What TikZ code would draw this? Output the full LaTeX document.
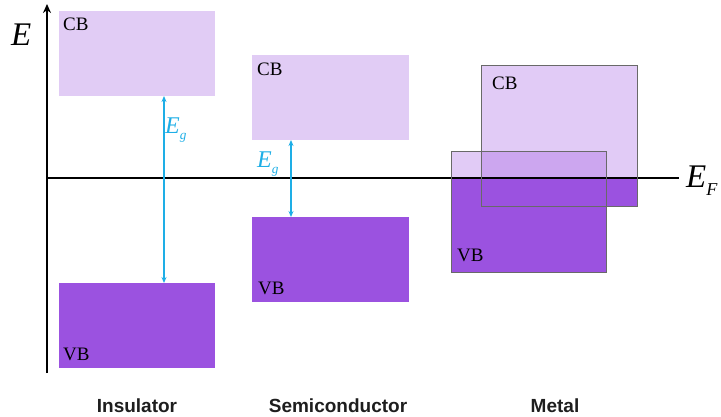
\documentclass[tikz,border=0pt]{standalone}
\usepackage{fontspec}
\setmainfont{Liberation Serif}
\newfontfamily\capfont{Liberation Sans}
\usetikzlibrary{arrows.meta}

\definecolor{vbfill}{RGB}{155,82,224}
\definecolor{cbfill}{RGB}{225,204,245}
\definecolor{gapblue}{RGB}{30,174,230}
\definecolor{edgegrey}{RGB}{105,105,105}
\definecolor{captext}{RGB}{30,30,30}

\newcommand{\subsc}[2]{\textit{#1}\raisebox{-0.25em}{\fontsize{0.55em}{0.6em}\selectfont\textit{#2}}}

\tikzset{
  band/.style={rectangle, inner sep=0pt, outer sep=0pt, anchor=north west},
  cbband/.style={band, fill=cbfill},
  vbband/.style={band, fill=vbfill},
  metalbox/.style={band},
  bandtxt/.style={inner sep=0pt, anchor=north west, font=\fontsize{19}{19}\selectfont},
  gap/.style={draw=gapblue, line width=1.1pt, {Stealth[length=6pt,width=5pt]}-{Stealth[length=6pt,width=5pt]}},
  gaptxt/.style={inner sep=0pt, anchor=base west, text=gapblue, font=\fontsize{24}{24}\selectfont},
  caption/.style={inner sep=0pt, anchor=base, text=captext, font=\capfont\bfseries\fontsize{19}{19}\selectfont},
}

\begin{document}
\begin{tikzpicture}[x=1pt, y=-1pt]
\useasboundingbox (0,0) rectangle (721,416);

% insulator bands
\node[cbband, minimum width=156pt, minimum height=85pt] (icb) at (59,11) {};
\node[vbband, minimum width=156pt, minimum height=85pt] (ivb) at (59,283) {};
% semiconductor bands
\node[cbband, minimum width=157pt, minimum height=85pt] (scb) at (252,55) {};
\node[vbband, minimum width=157pt, minimum height=85pt] (svb) at (252,217) {};
% metal bands (overlapping)
\node[metalbox, minimum width=156pt, minimum height=141pt] (mcb) at (481,65) {};
\node[metalbox, minimum width=155pt, minimum height=121pt] (mvb) at (451,151) {};

% metal: translucent fill above the Fermi level, solid below it
\fill[vbfill, fill opacity=0.3] (mcb.north west) rectangle (mcb.south east);
\fill[vbfill, fill opacity=0.3] (mvb.north west) rectangle (mvb.south east);
\begin{scope}
  \clip (0,178) rectangle (721,416);
  \fill[vbfill] (mcb.north west) rectangle (mcb.south east);
  \fill[vbfill] (mvb.north west) rectangle (mvb.south east);
\end{scope}

% energy axis and Fermi level
\coordinate (axbot) at (47,373);
\coordinate (axtop) at (47,4);
\coordinate (efl) at (47,178);
\coordinate (efr) at (679,178);
\draw[line width=2.2pt, -{Stealth[length=9pt,width=8pt]}] (axbot) -- (axtop);
\draw[line width=2.4pt] (efl) -- (efr);

% metal band outlines
\draw[edgegrey, line width=0.9pt] (mcb.north west) rectangle (mcb.south east);
\draw[edgegrey, line width=0.9pt] (mvb.north west) rectangle (mvb.south east);

% band gaps
\coordinate (igx) at (164,0);
\coordinate (sgx) at (291,0);
\draw[gap] (icb.south -| igx) -- (ivb.north -| igx);
\draw[gap] (scb.south -| sgx) -- (svb.north -| sgx);
\node[gaptxt] (ieg) at (165,133) {\subsc{E}{g}};
\node[gaptxt] (seg) at (257,167) {\subsc{E}{g}};

% band labels
\node[bandtxt] (icbt) at (63,18) {CB};
\node[bandtxt] (ivbt) at (63,348) {VB};
\node[bandtxt] (scbt) at (257,63) {CB};
\node[bandtxt] (svbt) at (258,282) {VB};
\node[bandtxt] (mcbt) at (492,77) {CB};
\node[bandtxt] (mvbt) at (457,249) {VB};

% axis labels
\node[inner sep=0pt, anchor=base west, font=\fontsize{33}{33}\selectfont] (elab) at (11,45) {\textit{E}};
\node[inner sep=0pt, anchor=base west, font=\fontsize{33}{33}\selectfont] (eflab) at (686,187) {\subsc{E}{F}};

% material captions
\node[caption] (cins) at (137,412) {Insulator};
\node[caption] (csemi) at (338,412) {Semiconductor};
\node[caption] (cmet) at (555,412) {Metal};
\end{tikzpicture}
\end{document}
